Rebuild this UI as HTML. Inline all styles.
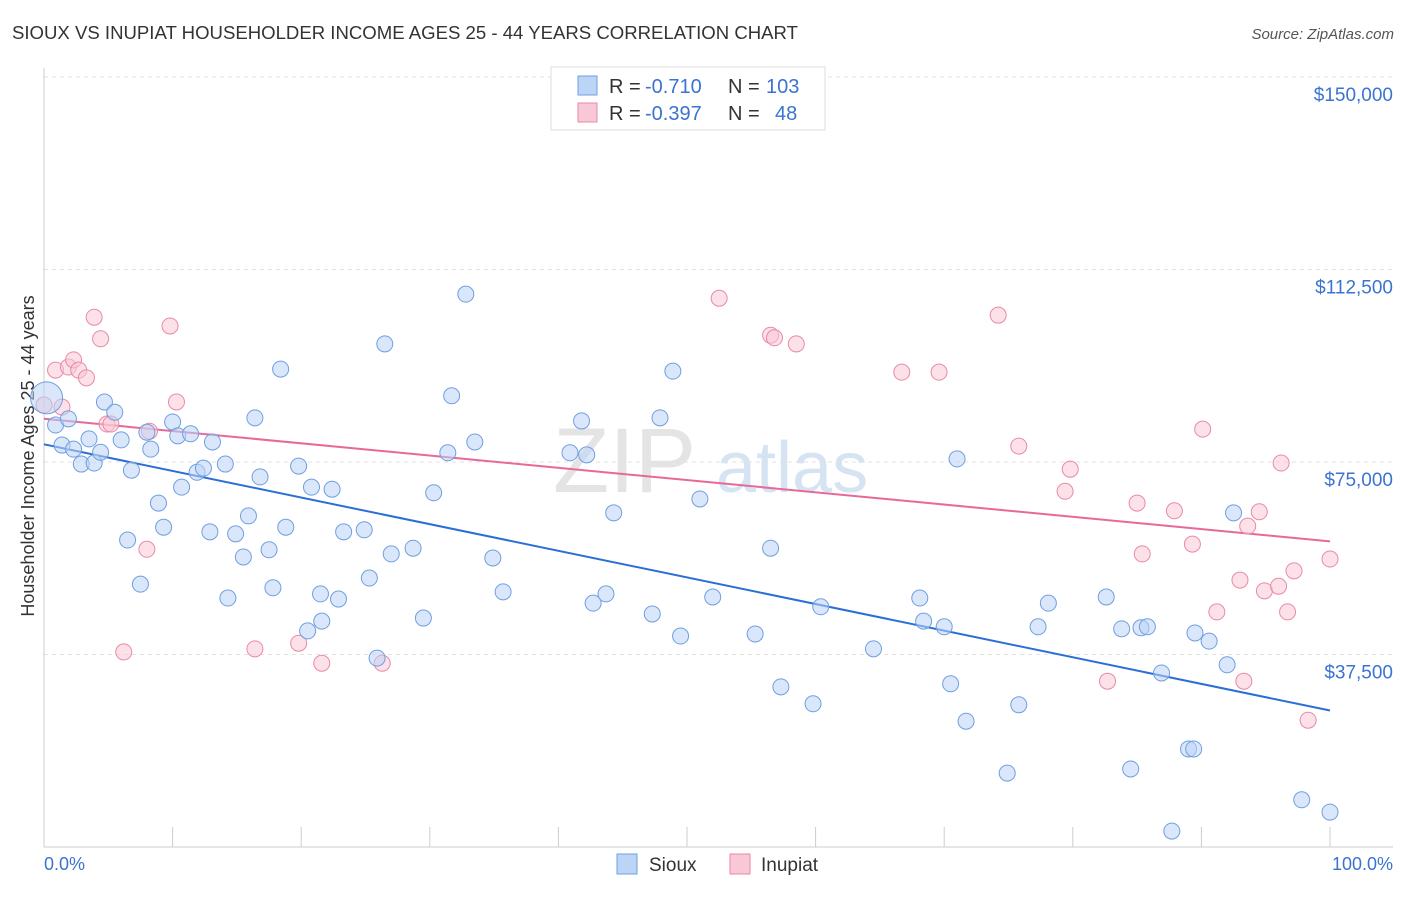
<!DOCTYPE html>
<html><head><meta charset="utf-8"><style>
body{margin:0;background:#fff;font-family:"Liberation Sans",sans-serif;}
svg text{font-family:"Liberation Sans",sans-serif;}
</style></head><body>
<svg id="chart" width="1406" height="892" viewBox="0 0 1406 892">
<text x="12" y="39" font-size="18" fill="#333" textLength="786" lengthAdjust="spacingAndGlyphs">SIOUX VS INUPIAT HOUSEHOLDER INCOME AGES 25 - 44 YEARS CORRELATION CHART</text>
<text x="1394" y="39" font-size="15" fill="#555" text-anchor="end" font-style="italic">Source: ZipAtlas.com</text>
<text x="553" y="492" font-size="92" fill="#e4e4e4" font-family="Liberation Serif">ZIP</text>
<text x="716" y="492" font-size="72" fill="#d5e3f3">atlas</text>
<text transform="translate(34,456) rotate(-90)" font-size="18" fill="#333" text-anchor="middle">Householder Income Ages 25 - 44 years</text>
<g id="grid"></g><g id="axes"></g><g id="lines"></g><g id="points"></g>
<g>
<rect x="551" y="67" width="274" height="63" fill="#fff" stroke="#ddd"/>
<rect x="578" y="76" width="19" height="19" fill="#bcd4f5" stroke="#6f9fe0"/>
<text x="609" y="93" font-size="20" fill="#333">R =</text>
<text x="645" y="93" font-size="20" fill="#3b73d1">-0.710</text>
<text x="728" y="93" font-size="20" fill="#333">N =</text>
<text x="766" y="93" font-size="20" fill="#3b73d1">103</text>
<rect x="578" y="103" width="19" height="19" fill="#f9c8d6" stroke="#e88aa8"/>
<text x="609" y="120" font-size="20" fill="#333">R =</text>
<text x="645" y="120" font-size="20" fill="#3b73d1">-0.397</text>
<text x="728" y="120" font-size="20" fill="#333">N =</text>
<text x="775" y="120" font-size="20" fill="#3b73d1">48</text>
</g>
<g>
<rect x="617" y="854" width="20" height="20" fill="#bcd4f5" stroke="#6f9fe0"/>
<text x="649" y="871" font-size="19" fill="#333">Sioux</text>
<rect x="730" y="854" width="20" height="20" fill="#f9c8d6" stroke="#e88aa8"/>
<text x="761" y="871" font-size="19" fill="#333">Inupiat</text>
</g>
<text x="44" y="870" font-size="18" fill="#3b73d1">0.0%</text>
<text x="1393" y="870" font-size="18" fill="#3b73d1" text-anchor="end">100.0%</text>
</svg>
<script>
const yTicks=[37500,75000,112500,150000];
const yTickLabels=["$37,500","$75,000","$112,500","$150,000"];
const siouxX=[0.2,0.9,1.4,1.9,2.3,2.9,3.5,3.9,4.4,4.7,5.5,6.0,6.5,6.8,7.5,8.0,8.3,8.9,9.3,10.0,10.4,10.7,11.4,11.9,12.4,12.9,13.1,14.1,14.3,14.9,15.5,15.9,16.4,16.8,17.5,17.8,18.4,18.8,19.8,20.5,20.8,21.5,21.6,22.4,22.9,23.3,24.9,25.3,25.9,26.5,27.0,28.7,29.5,30.3,31.4,31.7,32.8,33.5,34.9,35.7,40.9,41.8,42.2,42.7,43.7,44.3,47.3,47.9,48.9,49.5,51.0,52.0,55.3,56.5,57.3,59.8,60.4,64.5,68.1,68.4,70.0,70.5,71.0,71.7,74.9,75.8,77.3,78.1,82.6,83.8,85.3,85.8,84.5,86.9,87.7,89.0,89.4,89.5,90.6,92.0,92.5,97.8,100.0];
const siouxY=[87.5,82.2,78.3,83.4,77.5,74.6,79.5,74.8,76.9,86.7,84.7,79.3,59.8,73.4,51.2,80.8,77.5,67.0,62.3,82.8,80.1,70.1,80.5,73.0,73.8,61.4,78.9,74.6,48.5,61.0,56.5,64.5,83.6,72.1,57.9,50.5,93.1,62.3,74.2,42.1,70.1,49.3,44.0,69.7,48.3,61.4,61.8,52.4,36.8,98.0,57.1,58.2,44.6,69.0,76.8,87.9,107.7,78.9,56.3,49.7,76.8,83.0,76.4,47.5,49.3,65.1,45.4,83.6,92.7,41.1,67.8,48.7,41.5,58.2,31.2,27.9,46.8,38.6,48.5,44.0,42.9,31.8,75.6,24.5,14.4,27.7,42.9,47.5,48.7,42.5,42.7,42.9,15.2,33.9,3.1,19.1,19.1,41.7,40.1,35.5,65.1,9.2,6.8];
const inupiatX=[0,0.9,1.4,1.9,2.3,2.7,3.3,3.9,4.4,4.9,5.2,6.2,8.0,8.2,9.8,10.3,16.4,19.8,21.6,26.3,52.5,56.5,56.8,58.5,66.7,69.6,74.2,75.8,79.4,79.8,82.7,85.0,85.4,87.9,89.3,90.1,91.2,93.0,93.3,93.6,94.5,94.9,96.0,96.2,96.7,97.2,98.3,100.0];
const inupiatY=[86.1,92.9,85.7,93.5,94.9,92.9,91.4,103.2,99.0,82.4,82.4,38.0,58.0,81.0,101.5,86.7,38.6,39.7,35.8,35.8,106.9,99.7,99.2,98.0,92.5,92.5,103.6,78.1,69.3,73.6,32.3,67.0,57.1,65.5,59.0,81.4,45.8,52.0,32.3,62.5,65.3,49.9,50.8,74.8,45.8,53.8,24.7,56.1];
const NS="http://www.w3.org/2000/svg";
const X0=44,X1=1330,Y0=847,PX=192.5/37500;
function sx(p){return X0+(X1-X0)*p/100;}
function sy(v){return Y0-v*PX;}
function mk(t,a,parent){const e=document.createElementNS(NS,t);for(const k in a)e.setAttribute(k,a[k]);document.getElementById(parent).appendChild(e);return e;}
let g=mk('line',{x1:X0,x2:1393,y1:sy(150000),y2:sy(150000),stroke:'#e2e2e2','stroke-dasharray':'4,4'},'grid');


yTicks.forEach((v,i)=>{
 const l=mk('line',{x1:X0,x2:1393,y1:sy(v),y2:sy(v),stroke:'#e2e2e2','stroke-dasharray':'4,4'},'grid');
 
 
 const t=mk('text',{x:1393,y:sy(v)+24,'font-size':19,fill:'#3b73d1','text-anchor':'end'},'axes');
 t.textContent=yTickLabels[i];
 
 
});
let ax=mk('line',{x1:X0,x2:X0,y1:68,y2:Y0,stroke:'#ccc'},'axes');


let bx=mk('line',{x1:X0,x2:1393,y1:Y0,y2:Y0,stroke:'#ccc'},'axes');


for(let i=0;i<=10;i++){const tk=mk('line',{x1:sx(i*10),x2:sx(i*10),y1:827,y2:Y0,stroke:'#ccc'},'axes');
 
 }
function fit(xs,ys){const n=xs.length;let mx=0,my=0;for(let i=0;i<n;i++){mx+=xs[i];my+=ys[i];}mx/=n;my/=n;let a=0,b=0;for(let i=0;i<n;i++){a+=(xs[i]-mx)*(ys[i]-my);b+=(xs[i]-mx)**2;}const s=a/b;return [my-s*mx,s];}
function series(xs,ys,fill,stroke,lc,name){
 const f=fit(xs,ys);
 const ln=mk('line',{x1:sx(0),y1:sy((f[0])*1000),x2:sx(100),y2:sy((f[0]+f[1]*100)*1000),stroke:lc,'stroke-width':2},'lines');
 
 
 xs.forEach((x,i)=>{
  const c=mk('circle',{cx:sx(x),cy:sy(ys[i]*1000),r:(name==='sioux'&&i===0)?16:8,fill:fill,'fill-opacity':0.55,stroke:stroke,'stroke-width':1},'points');
  
  
 });
}
series(inupiatX,inupiatY,'#f9c8d6','#e88aa8','#e8689a','inupiat');
series(siouxX,siouxY,'#bcd4f5','#6f9fe0','#2a6fd6','sioux');
</script>
</body></html>
